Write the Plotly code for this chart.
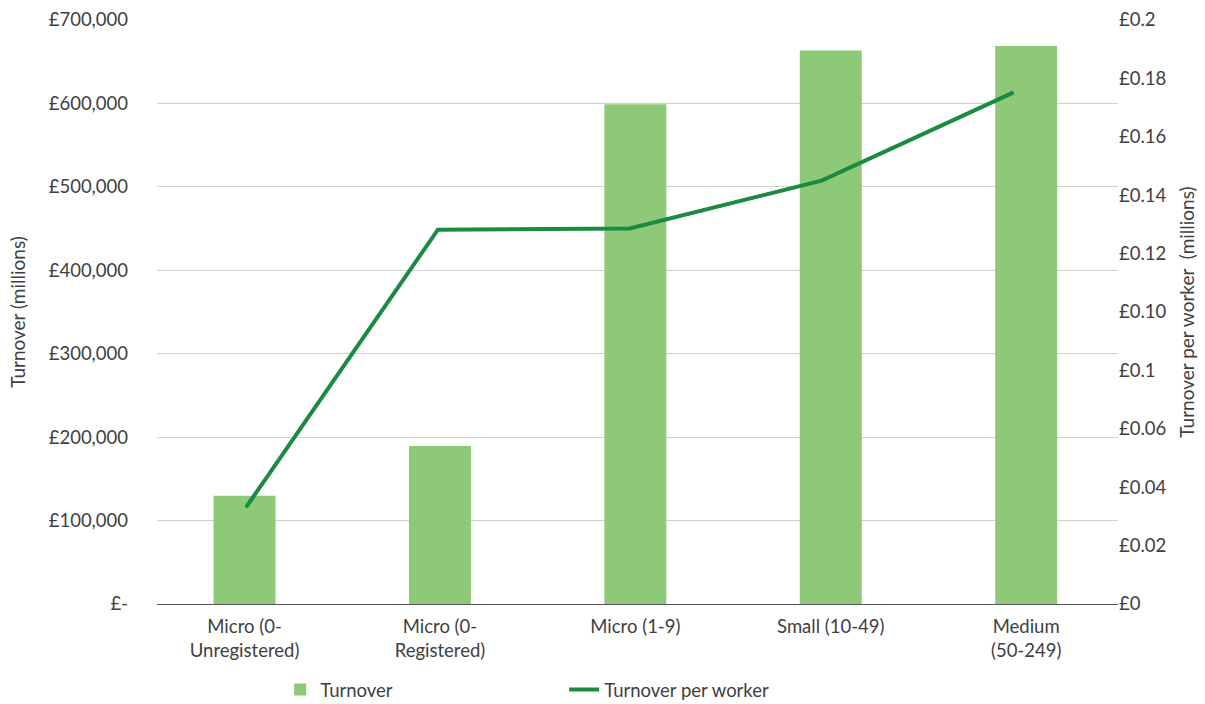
import plotly.graph_objects as go

# Business size bands
categories = [
    "Micro (0-<br>Unregistered)",
    "Micro (0-<br>Registered)",
    "Micro (1-9)",
    "Small (10-49)",
    "Medium<br>(50-249)",
]

# Total turnover, £ millions
turnover = [129800, 189400, 598900, 663500, 668700]

# Turnover per worker, £ millions
turnover_per_worker = [0.0331, 0.1282, 0.1286, 0.1450, 0.1752]

# Axis tick definitions
left_tickvals = [0, 100000, 200000, 300000, 400000, 500000, 600000, 700000]
left_ticktext = ["£-", "£100,000", "£200,000", "£300,000", "£400,000",
                 "£500,000", "£600,000", "£700,000"]
right_tickvals = [0, 0.02, 0.04, 0.06, 0.08, 0.10, 0.12, 0.14, 0.16, 0.18, 0.2]
right_ticktext = ["£0", "£0.02", "£0.04", "£0.06", "£0.1", "£0.10",
                  "£0.12", "£0.14", "£0.16", "£0.18", "£0.2"]

BAR_COLOR = "#8DC977"
LINE_COLOR = "#1B8A43"
TEXT_COLOR = "#404040"
FONT = "Lato, 'Noto Sans', sans-serif"
TICK_SIZE = 18.5
TITLE_SIZE = 19

fig = go.Figure()

fig.add_trace(go.Bar(
    x=categories,
    y=turnover,
    name="Turnover",
    marker=dict(color=BAR_COLOR, line=dict(width=0)),
    width=0.317,
    xaxis="x",
    yaxis="y",
))

fig.add_trace(go.Scatter(
    x=categories,
    y=turnover_per_worker,
    name="Turnover per worker",
    mode="lines",
    line=dict(color=LINE_COLOR, width=4),
    xaxis="x2",
    yaxis="y2",
))

fig.update_layout(
    width=1205,
    height=704,
    margin=dict(l=157, r=87, t=20, b=100, autoexpand=False),
    paper_bgcolor="white",
    plot_bgcolor="white",
    font=dict(family=FONT, size=TICK_SIZE, color=TEXT_COLOR),
    showlegend=True,
    legend=dict(
        orientation="h",
        xref="container",
        yref="container",
        x=0.2325,
        xanchor="left",
        y=0.02,
        yanchor="middle",
        entrywidth=239,
        entrywidthmode="pixels",
        font=dict(size=TICK_SIZE, color=TEXT_COLOR),
        traceorder="normal",
    ),
    xaxis=dict(
        type="category",
        range=[-0.448, 4.47],
        automargin=False,
        showgrid=False,
        showline=True,
        linecolor="#595959",
        linewidth=1,
        ticks="",
        tickfont=dict(size=TICK_SIZE, color=TEXT_COLOR),
        ticklabelstandoff=6,
    ),
    xaxis2=dict(
        type="category",
        overlaying="x",
        range=[-0.4638, 4.544],
        visible=False,
    ),
    yaxis=dict(
        range=[0, 700000],
        automargin=False,
        tickvals=left_tickvals,
        ticktext=left_ticktext,
        showgrid=True,
        gridcolor="#D0D0D0",
        gridwidth=1,
        zeroline=False,
        showline=False,
        ticks="",
        ticklabelstandoff=28,
        tickfont=dict(size=TICK_SIZE, color=TEXT_COLOR),
        title=dict(text="Turnover (millions)", font=dict(size=TITLE_SIZE, color=TEXT_COLOR), standoff=18),
    ),
    yaxis2=dict(
        range=[0, 0.2],
        automargin=False,
        overlaying="y",
        side="right",
        tickvals=right_tickvals,
        ticktext=right_ticktext,
        showgrid=False,
        zeroline=False,
        showline=False,
        ticks="",
        tickfont=dict(size=TICK_SIZE, color=TEXT_COLOR),
        title=dict(text="Turnover per worker\u00a0 (millions)", font=dict(size=TITLE_SIZE, color=TEXT_COLOR), standoff=15),
    ),
)

fig.write_html("out.html")
